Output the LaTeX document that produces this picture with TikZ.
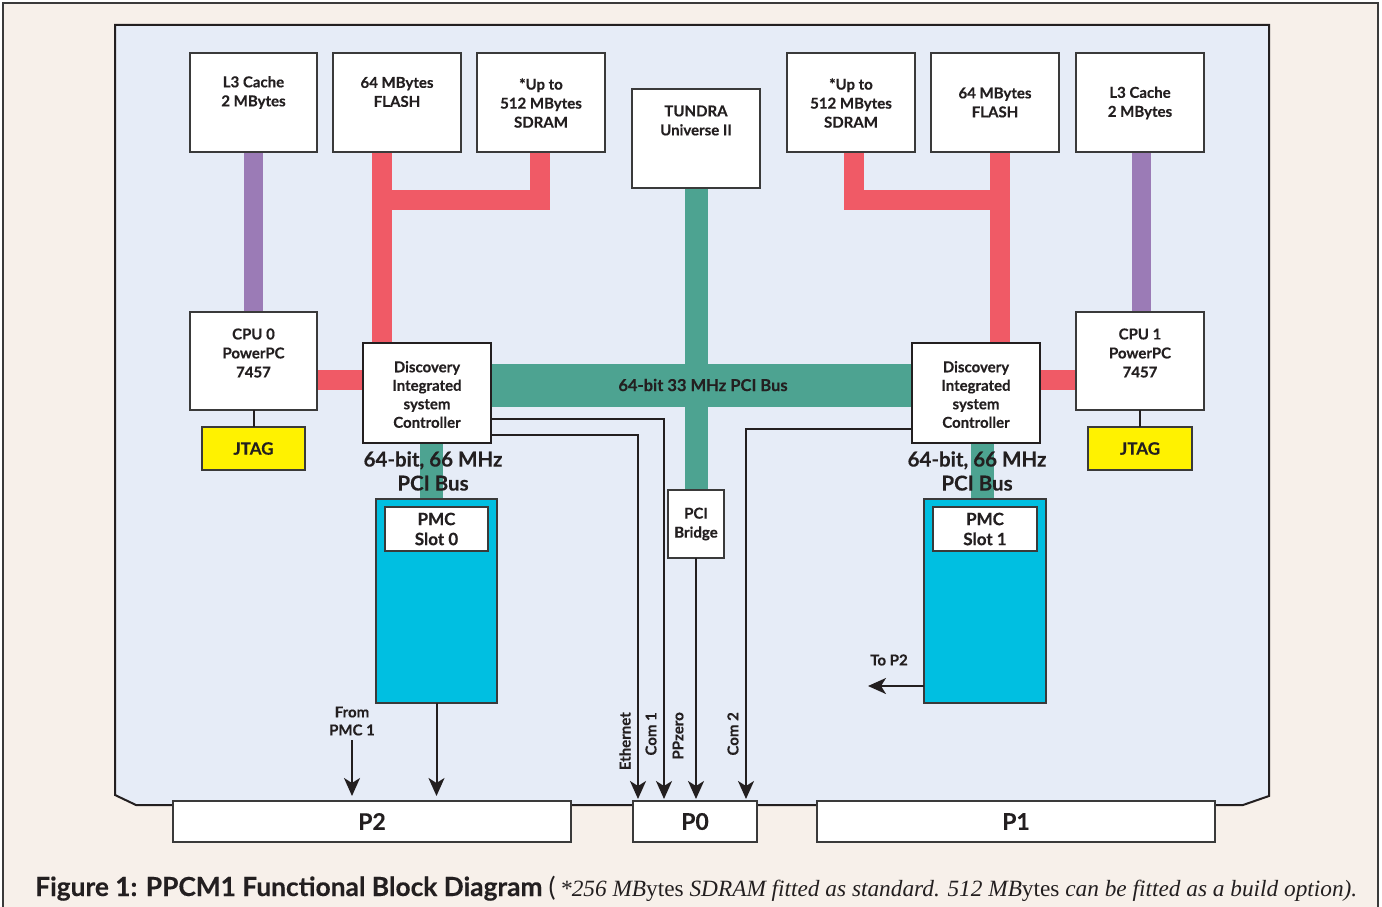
\documentclass[tikz,border=0pt]{standalone}
\usepackage{fontspec}
\setmainfont{Lato}[BoldFeatures={FakeBold=0.3}]
\newfontfamily\capserif{Liberation Serif}
\usetikzlibrary{arrows.meta,calc}
\definecolor{bgbeige}{HTML}{F7F0EA}
\definecolor{boardblue}{HTML}{E6ECF7}
\definecolor{redbar}{HTML}{F05A66}
\definecolor{purplebar}{HTML}{9B7BB6}
\definecolor{greenbar}{HTML}{4DA391}
\definecolor{pmccyan}{HTML}{00BFE1}
\definecolor{jtagyellow}{HTML}{FFF200}
\definecolor{ink}{HTML}{231F20}
\definecolor{edge}{HTML}{3A3A3A}
\begin{document}
\begin{tikzpicture}[x=1pt,y=-1pt,
  blk/.style={draw=edge, line width=1.4pt, fill=white, inner sep=0pt, outer sep=0pt, text=ink},
  lbl/.style={align=center, font=\bfseries\fontsize{15}{19}\selectfont, text=ink, inner sep=0pt},
  redb/.style={draw=redbar, line width=20pt, line join=miter},
  purpleb/.style={draw=purplebar, line width=19pt},
  greenb/.style={draw=greenbar, line width=23pt},
  conn/.style={draw=ink, line width=2pt},
  arr/.style={conn, -{Stealth[length=18pt,width=16pt,inset=5pt]}},
  rlbl/.style={rotate=90, anchor=east, font=\bfseries\fontsize{15}{18}\selectfont, text=ink, inner sep=0pt},
  plbl/.style={font=\bfseries\fontsize{23}{26}\selectfont}
]
\useasboundingbox (0,0) rectangle (1382,907);
\fill[white] (0,0) rectangle (1382,907);
\fill[bgbeige] (3,3) rectangle (1378,907);
\draw[edge, line width=1.5pt] (3,907) -- (3,3) -- (1378,3) -- (1378,907);
% board
\filldraw[fill=boardblue, draw=ink, line width=2pt] (115,25) -- (1269,25) -- (1269,796) -- (1243,805) -- (136,805) -- (115,795) -- cycle;

% boxes (geometry)
\node[blk, minimum width=127pt, minimum height=99pt] (l3L) at (253.5,102.5) {};
\node[blk, minimum width=128pt, minimum height=99pt] (flashL) at (397,102.5) {};
\node[blk, minimum width=128pt, minimum height=99pt] (sdramL) at (541,102.5) {};
\node[blk, minimum width=128pt, minimum height=99pt] (tundra) at (696,138.5) {};
\node[blk, minimum width=128pt, minimum height=99pt] (sdramR) at (851,102.5) {};
\node[blk, minimum width=128pt, minimum height=99pt] (flashR) at (995,102.5) {};
\node[blk, minimum width=128pt, minimum height=99pt] (l3R) at (1140,102.5) {};
\node[blk, minimum width=127pt, minimum height=98pt] (cpu0) at (253.5,361) {};
\node[blk, minimum width=128pt, minimum height=98pt] (cpu1) at (1140,361) {};
\node[blk, draw=ink, line width=2pt, minimum width=128pt, minimum height=100pt] (discL) at (427,393) {};
\node[blk, draw=ink, line width=2pt, minimum width=128pt, minimum height=100pt] (discR) at (976,393) {};
\node[blk, fill=jtagyellow, minimum width=103pt, minimum height=43pt, font=\bfseries\fontsize{17}{20}\selectfont] (jtagL) at (253.5,448.5) {JTAG};
\node[blk, fill=jtagyellow, minimum width=104pt, minimum height=43pt, font=\bfseries\fontsize{17}{20}\selectfont] (jtagR) at (1140,448.5) {JTAG};
\node[blk, fill=pmccyan, minimum width=121pt, minimum height=204pt] (pmc0) at (436.5,601) {};
\node[blk, fill=pmccyan, minimum width=122pt, minimum height=204pt] (pmc1) at (985,601) {};
\node[blk, fill=none, draw=none, minimum width=56pt, minimum height=68pt] (bridgeg) at (696,524) {};

% bars
\draw[purpleb] (l3L.south) -- (cpu0.north);
\draw[purpleb] ($(l3R.south)+(1,0)$) -- ($(cpu1.north)+(1,0)$);
\draw[redb] ($(flashL.south)+(-15,0)$) -- ($(discL.north)+(-45,0)$);
\draw[redb] ($(sdramL.south)+(-1,0)$) -- ($(sdramL.south)+(-1,47.5)$) -- ($(flashL.south)+(-15,47.5)$);
\draw[redb] ($(cpu0.east)+(0,19)$) -- ($(discL.west)+(0,-13)$);
\draw[redb] ($(flashR.south)+(5,0)$) -- ($(discR.north)+(24,0)$);
\draw[redb] ($(sdramR.south)+(2.5,0)$) -- ($(sdramR.south)+(2.5,47.5)$) -- ($(flashR.south)+(5,47.5)$);
\draw[redb] ($(discR.east)+(0,-13)$) -- ($(cpu1.west)+(0,19)$);
\draw[greenb] (tundra.south) -- (bridgeg.north);
\draw[greenbar, line width=43pt] ($(discL.east)+(0,-7.5)$) -- ($(discR.west)+(0,-7.5)$);
\draw[greenb] ($(discL.south)+(4.5,0)$) -- ($(pmc0.north)+(-5,0)$);
\draw[greenb] ($(discR.south)+(6,0)$) -- ($(pmc1.north)+(-3,0)$);

% redraw boxes on top of bars
\node[blk, minimum width=127pt, minimum height=99pt] at (l3L) {};
\node[blk, minimum width=128pt, minimum height=99pt] at (flashL) {};
\node[blk, minimum width=128pt, minimum height=99pt] at (sdramL) {};
\node[blk, minimum width=128pt, minimum height=99pt] at (tundra) {};
\node[blk, minimum width=128pt, minimum height=99pt] at (sdramR) {};
\node[blk, minimum width=128pt, minimum height=99pt] at (flashR) {};
\node[blk, minimum width=128pt, minimum height=99pt] at (l3R) {};
\node[blk, minimum width=127pt, minimum height=98pt] at (cpu0) {};
\node[blk, minimum width=128pt, minimum height=98pt] at (cpu1) {};
\node[blk, draw=ink, line width=2pt, minimum width=128pt, minimum height=100pt] at (discL) {};
\node[blk, draw=ink, line width=2pt, minimum width=128pt, minimum height=100pt] at (discR) {};
\node[blk, fill=pmccyan, minimum width=121pt, minimum height=204pt] at (pmc0) {};
\node[blk, fill=pmccyan, minimum width=122pt, minimum height=204pt] at (pmc1) {};
\node[blk, minimum width=103pt, minimum height=44pt, align=center, font=\bfseries\fontsize{17}{20}\selectfont] (pmc0in) at (436.5,529) {PMC\\Slot 0};
\node[blk, minimum width=104pt, minimum height=44pt, align=center, font=\bfseries\fontsize{17}{20}\selectfont] (pmc1in) at (985,529) {PMC\\Slot 1};
\node[blk, minimum width=56pt, minimum height=68pt, align=center, font=\bfseries\fontsize{15}{19}\selectfont] (bridge) at (696,524) {PCI\\Bridge};

% box texts
\node[lbl] (l3Lt) at (253.5,92.5) {L3 Cache\\2 MBytes};
\node[lbl] (flashLt) at (397,92) {64 MBytes\\FLASH};
\node[lbl] (sdramLt) at (541,103) {*Up to\\512 MBytes\\SDRAM};
\node[lbl] (tundrat) at (696,120.5) {TUNDRA\\Universe II};
\node[lbl] (sdramRt) at (851,103) {*Up to\\512 MBytes\\SDRAM};
\node[lbl] (flashRt) at (995,102.5) {64 MBytes\\FLASH};
\node[lbl] (l3Rt) at (1140,103) {L3 Cache\\2 MBytes};
\node[lbl] (cpu0t) at (253.5,353) {CPU 0\\PowerPC\\7457};
\node[lbl] (cpu1t) at (1140,353) {CPU 1\\PowerPC\\7457};
\node[lbl, font=\bfseries\fontsize{15}{18.5}\selectfont] (discLt) at (427,394.5) {Discovery\\Integrated\\system\\Controller};
\node[lbl, font=\bfseries\fontsize{15}{18.5}\selectfont] (discRt) at (976,394.5) {Discovery\\Integrated\\system\\Controller};

% connectors bottom
\node[blk, plbl, minimum width=398pt, minimum height=41pt] (p2) at (372,821.5) {P2};
\node[blk, plbl, minimum width=124pt, minimum height=41pt] (p0) at (695,821.5) {P0};
\node[blk, plbl, minimum width=398pt, minimum height=41pt] (p1) at (1016,821.5) {P1};

% thin connectors
\draw[conn] (cpu0.south) -- (jtagL.north);
\draw[conn] (cpu1.south) -- (jtagR.north);
\draw[arr, shorten >=2pt] ($(discL.east)+(0,26)$) -| ($(p0.north)+(-31,0)$);
\draw[arr, shorten >=2pt] ($(discL.east)+(0,42)$) -| ($(p0.north)+(-57,0)$);
\draw[arr, shorten >=2pt] (bridge.south) -- (bridge.south |- p0.north);
\draw[arr, shorten >=2pt] ($(discR.west)+(0,36)$) -| ($(p0.north)+(51,0)$);
\draw[arr, shorten >=5pt] (pmc0.south) -- (pmc0.south |- p2.north);
\coordinate (frompmc) at (352,740);
\draw[arr, shorten >=5pt] (frompmc) -- (frompmc |- p2.north);
\coordinate (top2) at (868,686);
\draw[arr] ($(pmc1.west)+(0,85)$) -- (top2);

% labels
\node[lbl, font=\bfseries\fontsize{16.5}{19}\selectfont] (pcibus) at (703,385) {64-bit 33 MHz PCI Bus};
\node[lbl, font=\bfseries\fontsize{20.5}{24}\selectfont] (busL) at (433,471) {64-bit, 66 MHz\\PCI Bus};
\node[lbl, font=\bfseries\fontsize{20.5}{24}\selectfont] (busR) at (977,471) {64-bit, 66 MHz\\PCI Bus};
\node[lbl, font=\bfseries\fontsize{15}{18}\selectfont] (fromt) at (352,721) {From\\PMC 1};
\node[lbl, font=\bfseries\fontsize{15}{18}\selectfont] (top2t) at (889,660) {To P2};
\node[rlbl] (eth) at (625,712) {Ethernet};
\node[rlbl] (com1) at (651,712) {Com 1};
\node[rlbl] (ppz) at (678,712) {PPzero};
\node[rlbl] (com2) at (733,712) {Com 2};

% caption
\node[anchor=base west, inner sep=0pt, text=ink] (cap) at (35,896) {\bfseries\fontsize{26.3}{30}\selectfont Figure 1: PPCM1 Functional Block Diagram \mdseries(\,{\capserif\itshape\fontsize{23.3}{26}\selectfont *256 MB\upshape ytes \itshape SDRAM fitted as standard. 512 MB\upshape ytes \itshape can be fitted as a build option).}};
\end{tikzpicture}
\end{document}
